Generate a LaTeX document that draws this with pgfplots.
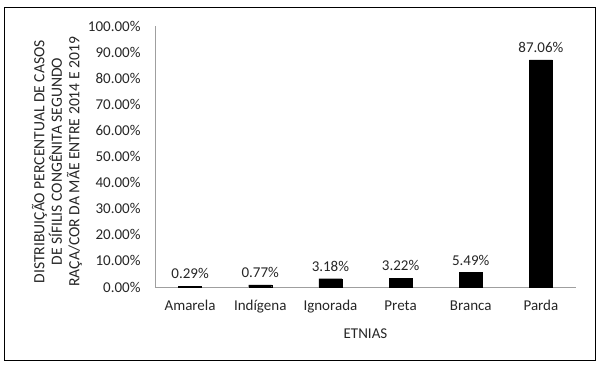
\documentclass[border=0pt]{standalone}
\usepackage{pgfplots}
\pgfplotsset{compat=1.18}
\usepackage{fontspec}
\setmainfont{Carlito}
\begin{document}
\begin{tikzpicture}
\path[use as bounding box] (0,0) rectangle (605bp,369bp);
\draw[black, line width=0.9bp] (4.5bp,9bp) rectangle (595.5bp,362bp);
\begin{axis}[
  at={(155bp,82bp)}, anchor=south west,
  scale only axis, width=421bp, height=261bp,
  xmin=-0.5, xmax=5.5, ymin=0, ymax=100,
  axis x line=bottom, axis y line=left,
  axis line style={draw=gray!75, line width=0.8bp, -},
  /pgf/number format/assume math mode=true,
  xtick={0,...,5},
  xticklabels={Amarela,Indígena,Ignorada,Preta,Branca,Parda},
  ytick={0,10,...,100},
  yticklabels={0.00\%,10.00\%,20.00\%,30.00\%,40.00\%,50.00\%,60.00\%,70.00\%,80.00\%,90.00\%,100.00\%},
  major tick length=0pt,
  tick label style={font=\fontsize{15bp}{17bp}\selectfont, text=black!85},
  yticklabel style={xshift=-11bp},
  xticklabel style={yshift=-10bp},
  ybar, bar width=23bp,
  nodes near coords={\pgfmathprintnumber[fixed,precision=2,zerofill]{\pgfplotspointmeta}\%},
  every node near coord/.append style={font=\fontsize{15bp}{17bp}\selectfont, text=black!85, yshift=4bp},
  xlabel={ETNIAS},
  xlabel style={font=\fontsize{15bp}{17bp}\selectfont, text=black!85, at={(axis description cs:0.5,-0.178)}, anchor=center},
  ylabel={DISTRIBUIÇÃO PERCENTUAL DE CASOS\\DE SÍFILIS CONGÊNITA SEGUNDO\\RAÇA/COR DA MÃE ENTRE 2014 E 2019},
  ylabel style={font=\fontsize{15.6bp}{17.5bp}\selectfont, text=black!85, align=center, at={(axis description cs:-0.233,0.48)}, anchor=center},
  clip=false,
]
\addplot[fill=black, draw=black] coordinates {(0,0.29) (1,0.77) (2,3.18) (3,3.22) (4,5.49) (5,87.06)};
\end{axis}
\end{tikzpicture}
\end{document}
